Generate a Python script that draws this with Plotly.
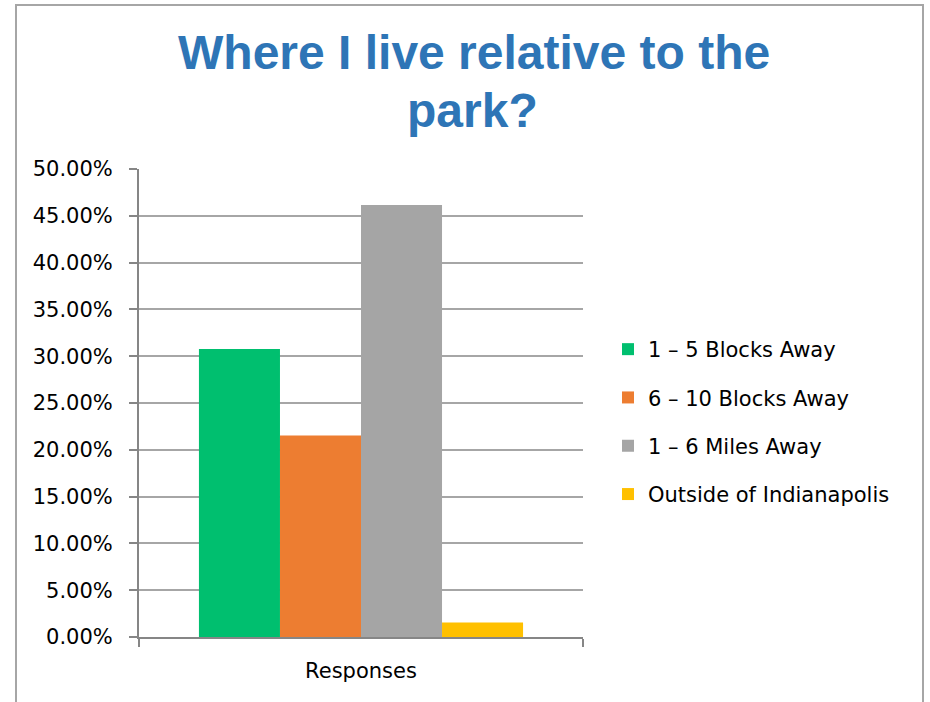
import plotly.graph_objects as go

categories = ["Responses"]
series_names = ["1 – 5 Blocks Away", "6 – 10 Blocks Away", "1 – 6 Miles Away", "Outside of Indianapolis"]
series_values = [[0.3077], [0.2154], [0.4615], [0.0154]]
series_colors = ["#00BF6F", "#ED7D31", "#A5A5A5", "#FFC000"]
y_tick_vals = [0, 0.05, 0.10, 0.15, 0.20, 0.25, 0.30, 0.35, 0.40, 0.45, 0.50]
title_lines = ["Where I live relative to the", "park?"]

W, H = 930, 702
L, R, T, B = 139, 347, 169, 65
PW, PH = W - L - R, H - T - B

def px(x):
    return (x - L) / PW

def py(y):
    return (H - B - y) / PH

FONT = "DejaVu Sans, Open Sans, sans-serif"

fig = go.Figure()
for i, (name, vals, col) in enumerate(zip(series_names, series_values, series_colors)):
    fig.add_trace(go.Bar(x=categories, y=vals, name=name, marker_color=col,
                         marker_line_width=0, legendgroup=f"g{i}"))

fig.update_layout(
    width=W, height=H,
    margin=dict(l=L, r=R, t=T, b=B, autoexpand=False),
    paper_bgcolor="white", plot_bgcolor="white",
    barmode="group", bargap=0.27, bargroupgap=0,
    font=dict(family=FONT, size=21, color="#000000"),
    showlegend=True,
    legend=dict(x=px(608), xanchor="left", y=py(422), yanchor="middle",
                font=dict(size=21, family=FONT, color="#000000"),
                tracegroupgap=18, bgcolor="rgba(0,0,0,0)", borderwidth=0),
)

fig.update_yaxes(range=[0, 0.5], tickvals=y_tick_vals, tickformat=".2%",
                 showgrid=True, gridcolor="#A6A6A6", gridwidth=1.5,
                 showline=True, linecolor="#868686", linewidth=2,
                 ticks="outside", ticklen=8, tickcolor="#868686", tickwidth=1.5,
                 ticklabelstandoff=12, zeroline=False, fixedrange=True)
fig.update_xaxes(type="category", tickson="boundaries",
                 showline=True, linecolor="#868686", linewidth=2,
                 ticks="outside", ticklen=8, tickcolor="#868686", tickwidth=1.5,
                 showgrid=False, ticklabelstandoff=14, fixedrange=True)

# title lines
title_y = [52, 110]
title_x = [474, 472]
for txt, yy, xx in zip(title_lines, title_y, title_x):
    fig.add_annotation(text=f"<b>{txt}</b>", x=px(xx), y=py(yy), xref="paper", yref="paper",
                       xanchor="center", yanchor="middle", showarrow=False,
                       font=dict(family="Liberation Sans, Arial, sans-serif", size=48, color="#2E75B6"))

# outer chart border
fig.add_shape(type="rect", xref="paper", yref="paper",
              x0=px(16), x1=px(923), y0=py(5), y1=py(740),
              line=dict(color="#A6A6A6", width=2), fillcolor="rgba(0,0,0,0)", layer="below")

fig.write_html("out.html", config={"displayModeBar": False},
               post_script="document.body.style.margin='0';document.body.style.overflow='hidden';")
